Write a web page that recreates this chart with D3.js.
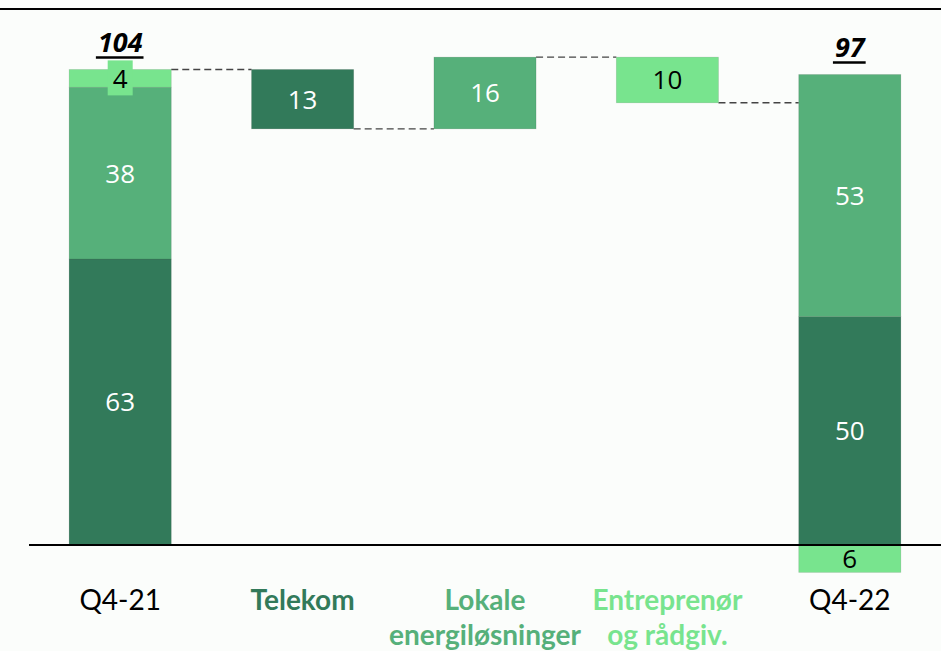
<!DOCTYPE html>
<html>
<head>
<meta charset="utf-8">
<script src="https://cdn.jsdelivr.net/npm/d3@7"></script>
<style>
  body { margin: 0; background: #fbfdfb; }
  svg { display: block; }
</style>
</head>
<body>
<script>
// data
const categories = ['Q4-21', 'Telekom', 'Lokale energiløsninger', 'Entreprenør og rådgiv.', 'Q4-22']
const labelLines = [['Q4-21'], ['Telekom'], ['Lokale', 'energiløsninger'], ['Entreprenør', 'og rådgiv.'], ['Q4-22']]
const startValues = [62.6, 37.6, 3.9]   // Q4-21 stack
const changes = [-13, 15.7, -10]         // bridge steps
const endValues = [50, 53, -6]           // Q4-22 stack
const totals = [104, 97]

const colors = ['#327a5a', '#56b07a', '#78e48e']
const labelColors = ['#000000', '#327a5a', '#56b07a', '#78e48e', '#000000']

const W = 941, H = 651
const svg = d3.select('body').append('svg').attr('width', W).attr('height', H)

const x = d3.scaleBand().domain(categories).range([29, 941]).paddingInner(0.44).paddingOuter(0.22)
const y = d3.scaleLinear().domain([0, 110]).range([545, 545 - 110 * 4.568])

// build rectangles
let rects = []
let acc = 0
startValues.forEach((v, i) => {
  rects.push({ cat: categories[0], y0: acc, y1: acc + v, v: v, c: i })
  acc += v
})
let level = acc
let links = [{ from: categories[0], to: categories[1], v: level }]
changes.forEach((v, i) => {
  const cat = categories[i + 1]
  rects.push({ cat: cat, y0: level, y1: level + v, v: v, c: i })
  level += v
  links.push({ from: cat, to: categories[i + 2], v: level })
})
let pos = 0
endValues.forEach((v, i) => {
  if (v >= 0) {
    rects.push({ cat: categories[4], y0: pos, y1: pos + v, v: v, c: i })
    pos += v
  } else {
    rects.push({ cat: categories[4], y0: 0, y1: v, v: v, c: i })
  }
})

// top rule
svg.append('line').attr('x1', 0).attr('x2', W).attr('y1', 9).attr('y2', 9)
  .attr('stroke', '#000').attr('stroke-width', 2)

// connectors
svg.append('g').selectAll('line').data(links).join('line')
  .attr('x1', d => x(d.from) + x.bandwidth())
  .attr('x2', d => x(d.to))
  .attr('y1', d => y(d.v)).attr('y2', d => y(d.v))
  .attr('stroke', '#444').attr('stroke-width', 1.4).attr('stroke-dasharray', '7,4')

svg.append('g').selectAll('rect').data(rects).join('rect')
  .attr('x', d => x(d.cat))
  .attr('width', x.bandwidth())
  .attr('y', d => y(Math.max(d.y0, d.y1)))
  .attr('height', d => Math.abs(y(d.y0) - y(d.y1)))
  .attr('fill', d => colors[d.c])
  .attr('stroke', 'rgba(0,0,0,0.12)').attr('stroke-width', 0.8)

// baseline
svg.append('line').attr('x1', 29).attr('x2', W).attr('y1', y(0)).attr('y2', y(0))
  .attr('stroke', '#000').attr('stroke-width', 2)

// value labels
const lab = svg.append('g').selectAll('g').data(rects).join('g')
  .attr('transform', d => `translate(${x(d.cat) + x.bandwidth() / 2},${(y(d.y0) + y(d.y1)) / 2})`)
lab.filter(d => Math.abs(y(d.y0) - y(d.y1)) < 25)
  .append('rect')
  .attr('x', -12.5).attr('y', -18).attr('width', 25).attr('height', 35)
  .attr('fill', d => colors[d.c])
lab.append('text')
  .attr('text-anchor', 'middle').attr('dy', '0.36em')
  .attr('font-family', 'Open Sans, sans-serif').attr('font-size', 26)
  .attr('fill', d => d.c === 2 ? '#000' : '#fff')
  .text(d => Math.round(Math.abs(d.v)))

// totals
const totalTops = [startValues.reduce((a, b) => a + b, 0), d3.sum(endValues.filter(v => v > 0))]
const tot = svg.append('g').selectAll('g').data(totals).join('g')
  .attr('transform', (d, i) => `translate(${x(categories[i * 4]) + x.bandwidth() / 2},${y(totalTops[i]) - 17})`)
tot.append('text')
  .attr('text-anchor', 'middle')
  .attr('font-family', 'Open Sans, sans-serif').attr('font-size', 27)
  .attr('font-weight', 'bold').attr('font-style', 'italic')
  .attr('fill', '#000')
  .text(d => d)
tot.each(function () {
  const g = d3.select(this)
  const w = g.select('text').node().getComputedTextLength()
  g.append('line').attr('x1', -w / 2 - 2).attr('x2', w / 2 + 1).attr('y1', 5).attr('y2', 5)
    .attr('stroke', '#000').attr('stroke-width', 2.5)
})

// category labels
const cl = svg.append('g').selectAll('text').data(categories).join('text')
  .attr('x', d => x(d) + x.bandwidth() / 2)
  .attr('y', 610)
  .attr('text-anchor', 'middle')
  .attr('font-family', 'Lato, sans-serif').attr('font-size', 28)
  .attr('font-weight', (d, i) => (i === 0 || i === 4) ? 'normal' : 'bold')
  .attr('fill', (d, i) => labelColors[i])
cl.selectAll('tspan').data((d, i) => labelLines[i]).join('tspan')
  .attr('x', function () { return d3.select(this.parentNode).attr('x') })
  .attr('dy', (d, i) => i === 0 ? 0 : 35)
  .text(d => d)
</script>
</body>
</html>
